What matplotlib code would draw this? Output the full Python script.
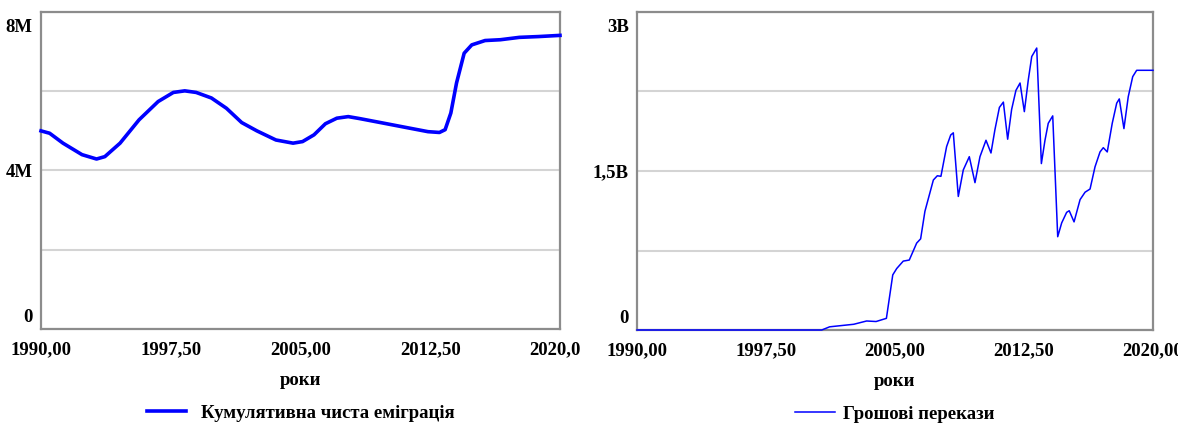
import matplotlib
matplotlib.use("Agg")
import matplotlib.pyplot as plt
from matplotlib.transforms import ScaledTranslation, Bbox

#######################################################################
# Data
#######################################################################

# Left chart: cumulative net emigration (persons)
emig_years = [1990.0, 1990.5, 1991.27, 1992.37, 1993.21, 1993.69, 1994.57, 1995.67,
              1996.77, 1997.65, 1998.31, 1998.97, 1999.85, 2000.72, 2001.6, 2002.48,
              2003.58, 2004.57, 2005.12, 2005.78, 2006.44, 2007.1, 2007.76, 2008.42,
              2009.74, 2011.05, 2012.37, 2013.03, 2013.36, 2013.69, 2014.02, 2014.46,
              2014.9, 2015.67, 2016.55, 2017.65, 2018.75, 2020.0]
emig_values = [5.00, 4.94, 4.69, 4.40, 4.29, 4.35, 4.69, 5.28,
               5.74, 5.97, 6.01, 5.97, 5.83, 5.57, 5.21, 5.00,
               4.77, 4.69, 4.73, 4.90, 5.18, 5.32, 5.36, 5.31,
               5.20, 5.09, 4.98, 4.96, 5.03, 5.45, 6.21, 6.96,
               7.17, 7.28, 7.30, 7.36, 7.38, 7.41]  # millions

# Right chart: remittances (dollars)
remit_years = [1990.0, 2000.74, 2001.2, 2002.6, 2003.35, 2003.9, 2004.5, 2004.87,
               2005.1, 2005.48, 2005.83, 2006.26, 2006.49, 2006.74, 2007.23, 2007.46,
               2007.67, 2008.0, 2008.24, 2008.39, 2008.68, 2008.97, 2009.32, 2009.65,
               2009.94, 2010.29, 2010.58, 2010.81, 2011.07, 2011.3, 2011.55, 2011.78,
               2012.03, 2012.27, 2012.52, 2012.75, 2012.95, 2013.24, 2013.51, 2013.72,
               2013.91, 2014.17, 2014.46, 2014.69, 2014.98, 2015.13, 2015.41, 2015.76,
               2016.05, 2016.34, 2016.63, 2016.92, 2017.11, 2017.34, 2017.63, 2017.89,
               2018.04, 2018.31, 2018.56, 2018.82, 2019.05, 2020.0]
remit_values = [0.0, 0.0, 0.03, 0.054, 0.085, 0.08, 0.11, 0.52,
                0.58, 0.65, 0.66, 0.82, 0.86, 1.12, 1.415, 1.455,
                1.45, 1.73, 1.84, 1.86, 1.26, 1.51, 1.635, 1.39,
                1.635, 1.79, 1.67, 1.89, 2.10, 2.15, 1.80, 2.08,
                2.26, 2.33, 2.06, 2.36, 2.58, 2.66, 1.57, 1.79,
                1.95, 2.02, 0.88, 1.01, 1.11, 1.125, 1.02, 1.23,
                1.30, 1.33, 1.54, 1.68, 1.72, 1.68, 1.95, 2.14,
                2.18, 1.90, 2.20, 2.39, 2.45, 2.45]  # billions

x_ticks = [1990, 1997.5, 2005, 2012.5, 2020]
x_labels = ["1990,00", "1997,50", "2005,00", "2012,50", "2020,00"]

emig_ticks = [0, 4e6, 8e6]
emig_labels = ["0", "4M", "8M"]
emig_grid = [2e6, 6e6]

remit_ticks = [0, 1.5e9, 3e9]
remit_labels = ["0", "1,5B", "3B"]
remit_grid = [0.75e9, 2.25e9]

#######################################################################
# Figure
#######################################################################

plt.rcParams['font.family'] = ['Liberation Serif', 'DejaVu Serif']
plt.rcParams['font.weight'] = 'bold'

W, H = 1178, 423
fig = plt.figure(figsize=(W / 100, H / 100), dpi=100)

ax1 = fig.add_axes([41 / W, 1 - 329 / H, (560 - 41) / W, (329 - 12) / H])
ax2 = fig.add_axes([637 / W, 1 - 330 / H, (1153 - 637) / W, (330 - 12) / H])


def style_axis(ax, yticks, ylabels, ygrid, ymax):
    ax.set_xlim(1990, 2020)
    ax.set_ylim(0, ymax)
    ax.set_xticks(x_ticks)
    ax.set_xticklabels(x_labels, fontsize=13.5, fontweight='bold')
    ax.set_yticks(yticks)
    ax.set_yticklabels(ylabels, fontsize=13.5, fontweight='bold')
    ax.set_yticks(ygrid, minor=True)
    ax.tick_params(axis='both', which='both', length=0)
    ax.tick_params(axis='x', pad=9)
    ax.tick_params(axis='y', pad=6)
    ax.grid(True, axis='y', which='both', color='#d4d4d4', linewidth=1.5)
    ax.set_axisbelow(True)
    for s in ax.spines.values():
        s.set_color('#8c8c8c')
        s.set_linewidth(1.6)
    ax.set_xlabel("роки", fontsize=13.5, fontweight='bold', labelpad=10)

    # top label sits below the top line, bottom label above the bottom line
    labels = ax.get_yticklabels()
    labels[0].set_transform(labels[0].get_transform() + ScaledTranslation(0, 14 / 100, fig.dpi_scale_trans))
    labels[-1].set_transform(labels[-1].get_transform() + ScaledTranslation(0, -13 / 100, fig.dpi_scale_trans))


style_axis(ax1, emig_ticks, emig_labels, emig_grid, 8e6)
style_axis(ax2, remit_ticks, remit_labels, remit_grid, 3e9)

# last year label of the left chart is cut off
last = ax1.get_xticklabels()[-1]
last.set_clip_on(True)
last.set_clip_box(Bbox([[0, 0], [580, H]]))

ax1.plot(emig_years, [v * 1e6 for v in emig_values], color='#0000ff', linewidth=2.6,
         label="Кумулятивна чиста еміграція", clip_on=False, zorder=3)
ax2.plot(remit_years, [v * 1e9 for v in remit_values], color='#0000ff', linewidth=1.1,
         label="Грошові перекази", clip_on=False, zorder=3)

for ax, gap in ((ax1, 0.8), (ax2, 0.45)):
    leg = ax.legend(loc='center', bbox_to_anchor=(0.5, -84 / 317), frameon=False,
                    fontsize=13.5, handlelength=2.1, handletextpad=gap,
                    borderpad=0, borderaxespad=0)
    for t in leg.get_texts():
        t.set_fontweight('bold')

fig.savefig("out.png", dpi=100)
